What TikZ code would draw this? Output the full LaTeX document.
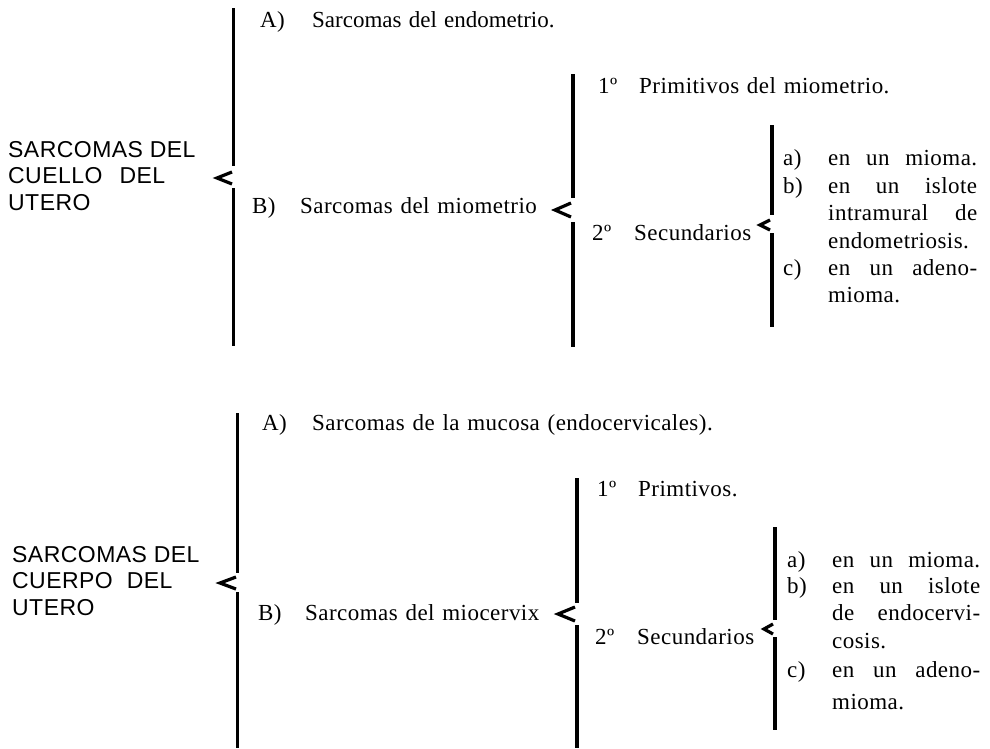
\documentclass[tikz,border=0pt]{standalone}
\usepackage{fontspec}
\setmainfont{Liberation Serif}[LetterSpace=2,WordSpace=1.25]
\setsansfont{Liberation Sans}[LetterSpace=2]
\newcommand{\fillline}[1]{\makebox[\linewidth][s]{#1}}
\begin{document}
\begin{tikzpicture}[x=1pt,y=-1pt,
        txt/.style={anchor=base west,inner sep=0pt,font=\fontsize{23}{27.5}\selectfont},
        caps/.style={anchor=base west,inner sep=0pt,font=\sffamily\fontsize{23}{26.5}\selectfont},
        brk/.style={line width=3pt},
        brkb/.style={line width=3.6pt},
        chev/.style={line width=3.2pt,line join=miter}]
        \useasboundingbox (0,0) rectangle (990,748);
        % cuello
        \node[caps] (g1) at (8,157) {\parbox[t]{220pt}{SARCOMAS DEL\\CUELLO\hspace{17pt}DEL\\UTERO}};
        \node[txt] (a1) at (260,27) {\makebox[52pt][l]{A)}{\addfontfeature{LetterSpace=0}Sarcomas del endometrio.}};
        \node[txt] (b1) at (252,213) {\makebox[48pt][l]{B)}Sarcomas del miometrio};
        \node[txt] (p1) at (598,93) {\makebox[41pt][l]{1º}Primitivos del miometrio.};
        \node[txt] (s1) at (592,240) {\makebox[42pt][l]{2º}Secundarios};
        \node[txt] (la1) at (783,165) {a)};
        \node[txt] (ta1) at (828,165) {\parbox[t]{149pt}{\fillline{en un mioma.}}};
        \node[txt] (lb1) at (783,193) {b)};
        \node[txt] (tb1) at (828,193) {\parbox[t]{149pt}{\fillline{en un islote}\\\fillline{intramural de}\\endometriosis.}};
        \node[txt] (lc1) at (783,275) {c)};
        \node[txt] (tc1) at (828,275) {\parbox[t]{149pt}{\fillline{en un adeno-}\\mioma.}};
        \draw[brk] (233,8) -- (233,166);
        \draw[brk] (233,188) -- (233,346);
        \draw[chev] (232,172) -- (217,178) -- (232,184);
        \draw[brkb] (573,74) -- (573,198);
        \draw[brkb] (573,222) -- (573,347);
        \draw[chev] (571,203) -- (555,210) -- (571,217);
        \draw[brkb] (772,125) -- (772,215);
        \draw[brkb] (772,233) -- (772,327);
        \draw[chev] (770,220) -- (760,225) -- (770,230);
        % cuerpo
        \node[caps] (g2) at (12,562) {\parbox[t]{220pt}{SARCOMAS DEL\\CUERPO\hspace{14pt}DEL\\UTERO}};
        \node[txt] (a2) at (262,430) {\makebox[50pt][l]{A)}Sarcomas de la mucosa (endocervicales).};
        \node[txt] (b2) at (258,620) {\makebox[47pt][l]{B)}Sarcomas del miocervix};
        \node[txt] (p2) at (597,496) {\makebox[41pt][l]{1º}Primtivos.};
        \node[txt] (s2) at (595,644) {\makebox[42pt][l]{2º}Secundarios};
        \node[txt] (la2) at (787,567) {a)};
        \node[txt] (ta2) at (832,567) {\parbox[t]{148pt}{\fillline{en un mioma.}}};
        \node[txt] (lb2) at (787,593) {b)};
        \node[txt] (tb2) at (832,593) {\parbox[t]{148pt}{\fillline{en un islote}\\\fillline{de endocervi-}\\cosis.}};
        \node[txt] (lc2) at (787,677) {c)};
        \node[txt] (tc2) at (832,677) {\parbox[t]{148pt}{\baselineskip=32pt\fillline{en un adeno-}\\mioma.}};
        \draw[brk] (237,413) -- (237,573);
        \draw[brk] (237,592) -- (237,748);
        \draw[chev] (236,577) -- (220,583) -- (236,589);
        \draw[brkb] (577,478) -- (577,603);
        \draw[brkb] (577,625) -- (577,748);
        \draw[chev] (575,607) -- (558,614) -- (575,621);
        \draw[brkb] (775,527) -- (775,620);
        \draw[brkb] (775,637) -- (775,730);
        \draw[chev] (773,624) -- (764,629) -- (773,634);
      \end{tikzpicture}
\end{document}
